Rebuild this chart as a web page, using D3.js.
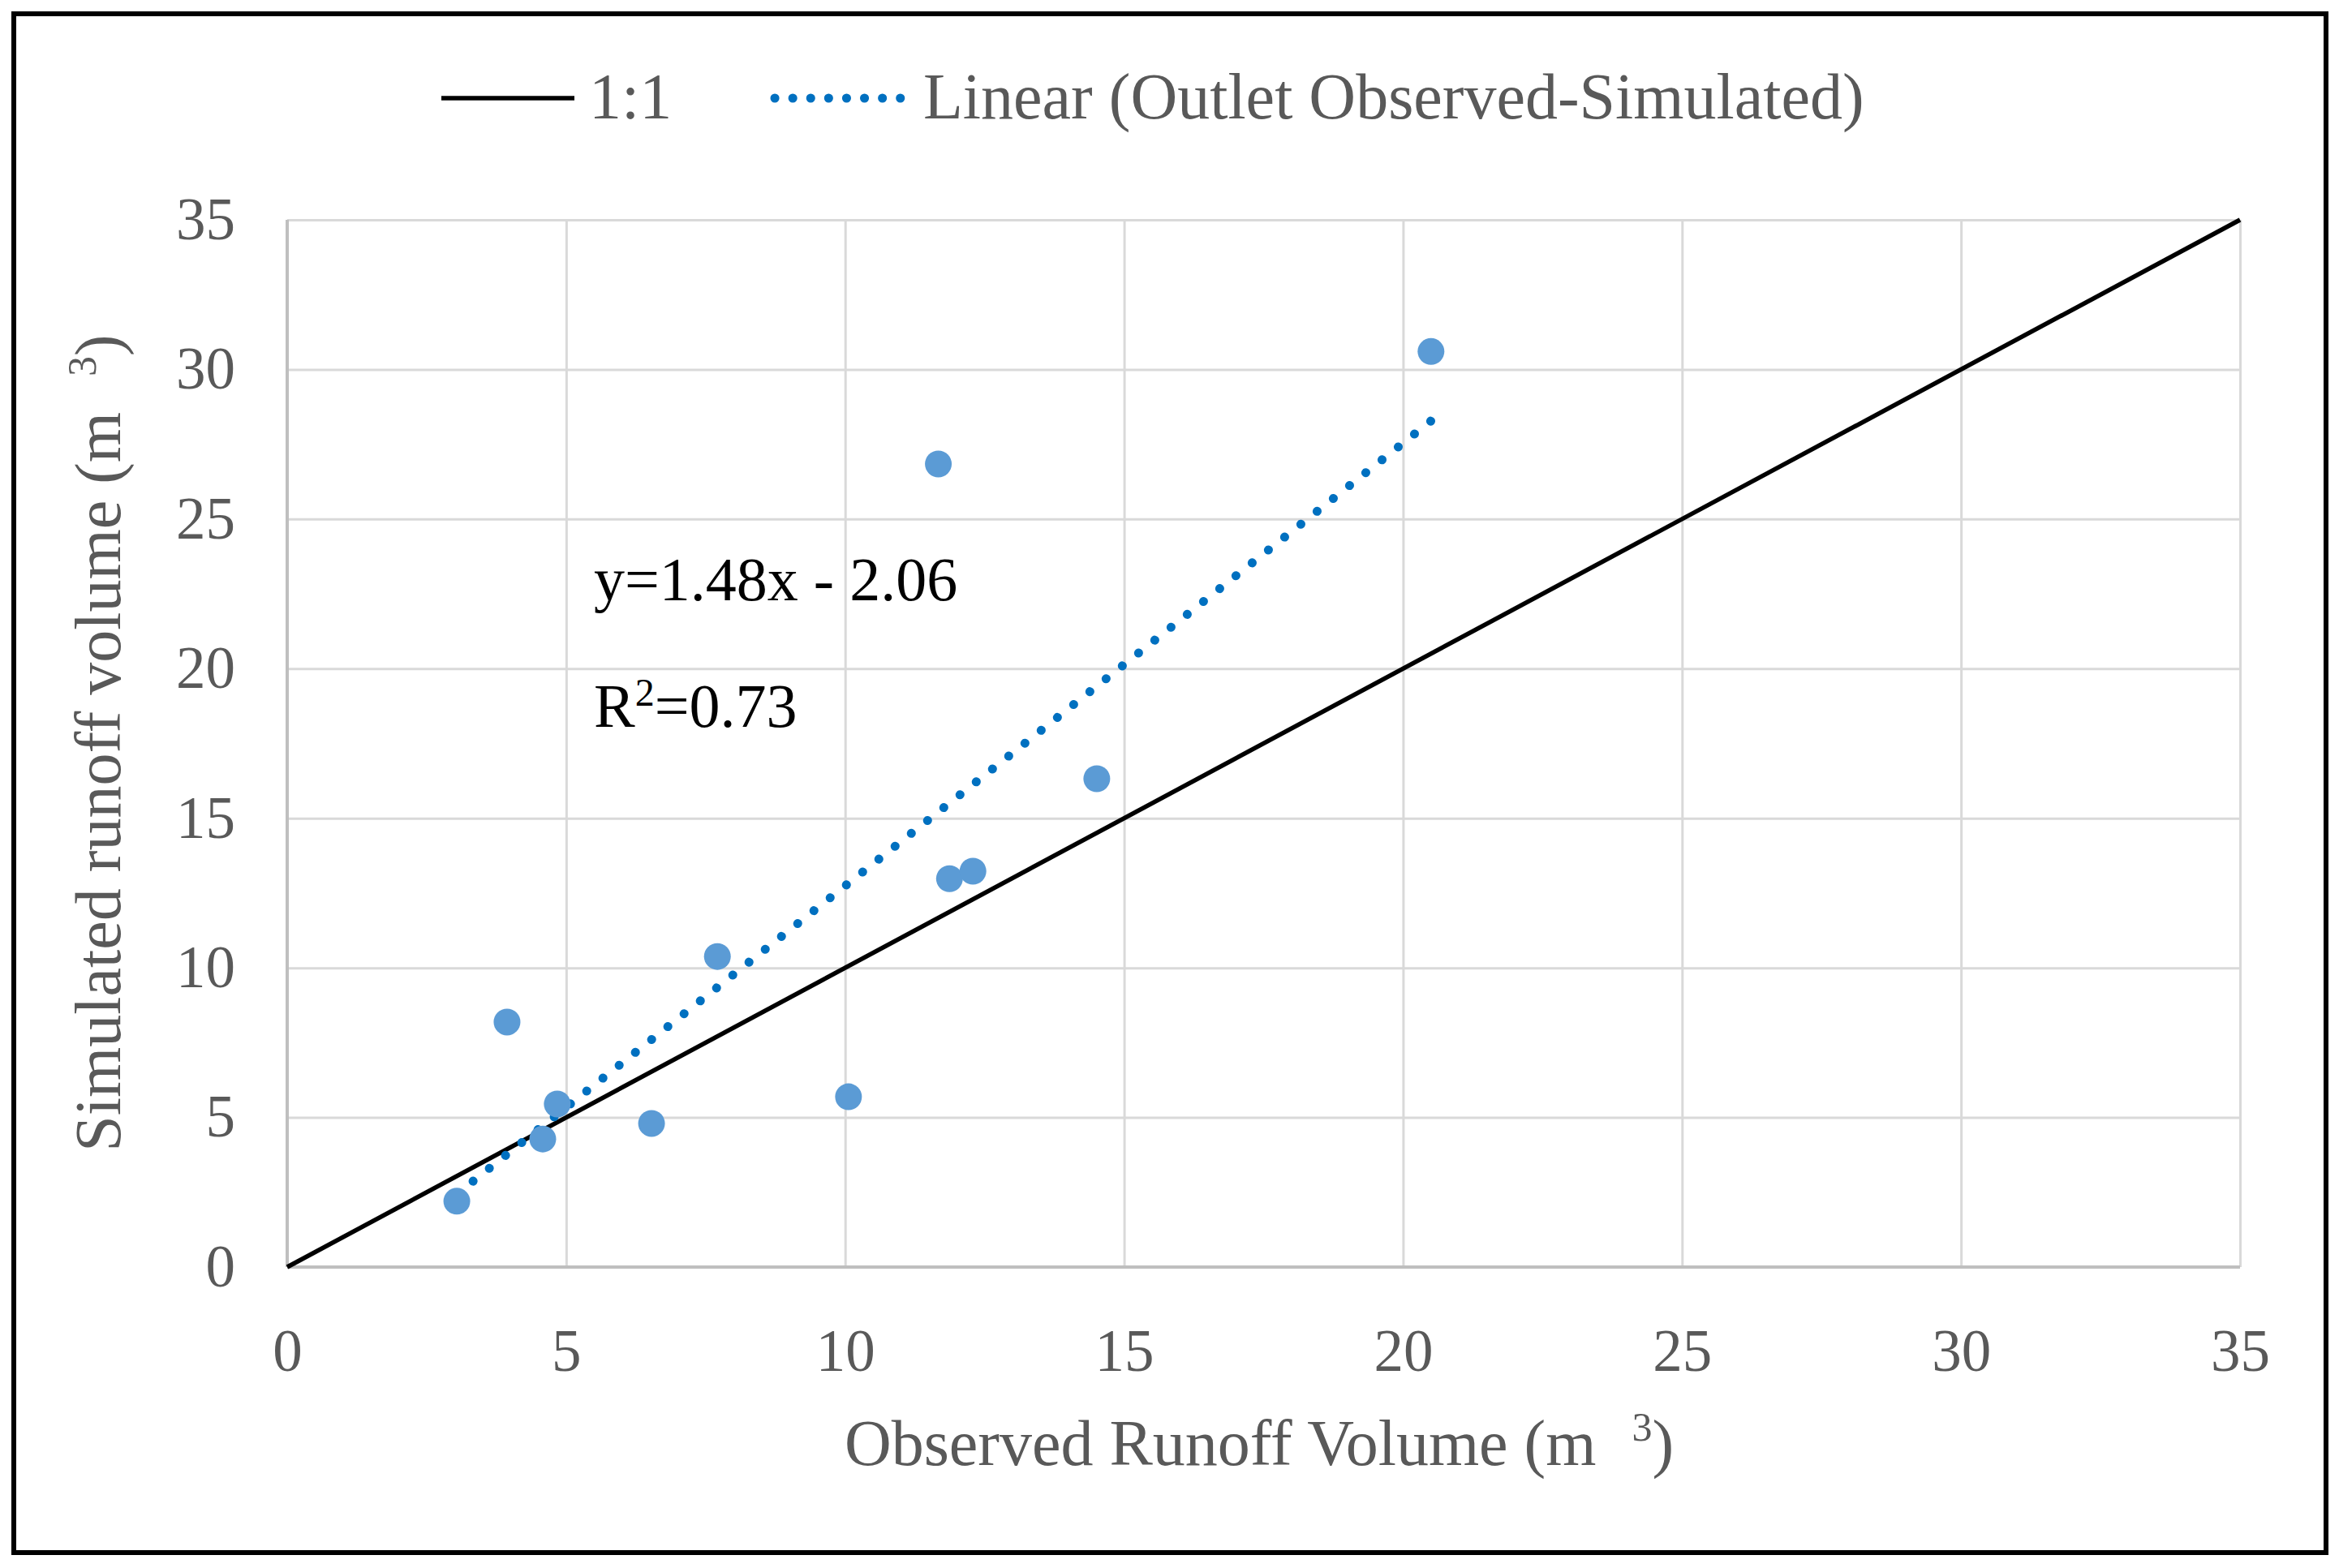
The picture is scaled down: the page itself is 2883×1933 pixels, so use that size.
<!DOCTYPE html>
<html>
<head>
<meta charset="utf-8">
<script src="https://cdn.jsdelivr.net/npm/d3@7"></script>
<style>
  body { margin: 0; background: #fff; }
  text { font-family: "Liberation Serif", "DejaVu Serif", serif; }
</style>
</head>
<body>
<div id="chart"></div>
<script>
// observed vs simulated runoff (m3)
var observed  = [3.04, 3.94, 4.84, 4.58, 6.53, 7.71, 10.06, 11.87, 12.29, 11.67, 14.51, 20.5];
var simulated = [2.2, 8.19, 5.45, 4.28, 4.8, 10.38, 5.69, 12.98, 13.23, 26.84, 16.32, 30.6];
var xTicks = [0, 5, 10, 15, 20, 25, 30, 35];
var yTicks = [0, 5, 10, 15, 20, 25, 30, 35];
var oneToOne = [0, 35];
var trendSlope = 1.48;
var trendIntercept = -2.06;
var legendLabels = ["1:1", "Linear (Outlet Observed-Simulated)"];

var svgWidth = 2883
var svgHeight = 1933

var margin = {
    top: 271,
    right: 122,
    bottom: 371,
    left: 354
  };

var width = svgWidth - margin.left - margin.right;
var height = svgHeight - margin.top - margin.bottom;

var svg = d3.select("#chart")
  .append("svg")
  .attr("width", svgWidth)
  .attr("height", svgHeight);

// outer frame
svg.append("rect")
  .attr("x", 17).attr("y", 17)
  .attr("width", 2850).attr("height", 1897)
  .attr("fill", "none")
  .attr("stroke", "#000")
  .attr("stroke-width", 6);

var xScale = d3.scaleLinear().domain([0, 35]).range([0, width]);
var yScale = d3.scaleLinear().domain([0, 35]).range([height, 0]);

var plot = svg.append("g")
  .attr("transform", `translate(${margin.left}, ${margin.top})`);

// gridlines
plot.append("g")
  .attr("transform", `translate(0, ${height})`)
  .call(d3.axisBottom(xScale).tickValues(xTicks).tickSize(-height).tickFormat(""))
  .call(g => g.select(".domain").remove())
  .selectAll("line").attr("stroke", "#d9d9d9").attr("stroke-width", 3);

plot.append("g")
  .call(d3.axisLeft(yScale).tickValues(yTicks).tickSize(-width).tickFormat(""))
  .call(g => g.select(".domain").remove())
  .selectAll("line").attr("stroke", "#d9d9d9").attr("stroke-width", 3);

// axis lines
plot.append("line")
  .attr("x1", 0).attr("x2", width)
  .attr("y1", height).attr("y2", height)
  .attr("stroke", "#bfbfbf").attr("stroke-width", 4);
plot.append("line")
  .attr("x1", 0).attr("x2", 0)
  .attr("y1", 0).attr("y2", height)
  .attr("stroke", "#bfbfbf").attr("stroke-width", 4);

// tick labels
var xAx = plot.append("g")
  .attr("transform", `translate(0, ${height})`)
  .call(d3.axisBottom(xScale).tickValues(xTicks).tickSize(0).tickPadding(76));
xAx.select(".domain").remove();
xAx.selectAll("text")
  .attr("font-size", 73)
  .attr("font-family", "Liberation Serif")
  .attr("fill", "#595959");

var yAx = plot.append("g")
  .call(d3.axisLeft(yScale).tickValues(yTicks).tickSize(0).tickPadding(64));
yAx.select(".domain").remove();
yAx.selectAll("text")
  .attr("font-size", 73)
  .attr("font-family", "Liberation Serif")
  .attr("fill", "#595959");

// 1:1 line
var line = d3.line()
  .x(d => xScale(d[0]))
  .y(d => yScale(d[1]));

plot.append("path")
  .datum(oneToOne.map(v => [v, v]))
  .attr("d", line)
  .attr("fill", "none")
  .attr("stroke", "#000")
  .attr("stroke-width", 5.5);

// trend line (dotted, spacing fitted so dots sit at both ends)
var xMin = d3.min(observed), xMax = d3.max(observed);
var trend = plot.append("path")
  .datum([xMin, xMax].map(v => [v, trendSlope * v + trendIntercept]))
  .attr("d", line)
  .attr("fill", "none")
  .attr("stroke", "#0070c0")
  .attr("stroke-width", 11)
  .attr("stroke-linecap", "round");
var tLen = trend.node().getTotalLength();
var gap = (tLen - 0.5) / Math.round(tLen / 25.6);
trend.attr("stroke-dasharray", `0.1 ${gap - 0.1}`);

// points
plot.selectAll("circle")
  .data(observed.map((d, i) => [d, simulated[i]]))
  .enter()
  .append("circle")
  .attr("cx", d => xScale(d[0]))
  .attr("cy", d => yScale(d[1]))
  .attr("r", 16.5)
  .attr("fill", "#5b9bd5");

// equation + r2
plot.append("text")
  .attr("x", 378).attr("y", 469)
  .attr("font-size", 76)
  .attr("fill", "#000")
  .text("y=1.48x - 2.06");

var r2 = plot.append("text")
  .attr("x", 378).attr("y", 625)
  .attr("font-size", 76)
  .attr("fill", "#000");
r2.append("tspan").text("R");
r2.append("tspan").attr("dy", -26).attr("font-size", 48).text("2");
r2.append("tspan").attr("dy", 26).text("=0.73");

// axis titles
var xt = svg.append("text")
  .attr("x", 1552).attr("y", 1806)
  .attr("text-anchor", "middle")
  .attr("font-size", 80)
  .attr("fill", "#595959");
xt.append("tspan").text("Observed Runoff Volume (m");
xt.append("tspan").attr("dx", 44).attr("dy", -30).attr("font-size", 50).text("3");
xt.append("tspan").attr("dy", 30).text(")");

var yt = svg.append("text")
  .attr("transform", "translate(148, 916) rotate(-90)")
  .attr("text-anchor", "middle")
  .attr("font-size", 80)
  .attr("fill", "#595959");
yt.append("tspan").text("Simulated runoff volume (m");
yt.append("tspan").attr("dx", 44).attr("dy", -30).attr("font-size", 50).text("3");
yt.append("tspan").attr("dy", 30).text(")");

// legend
var legend = svg.append("g");
legend.append("line")
  .attr("x1", 544).attr("x2", 708)
  .attr("y1", 121).attr("y2", 121)
  .attr("stroke", "#000").attr("stroke-width", 5.5);
legend.append("text")
  .attr("x", 726).attr("y", 118)
  .attr("dy", "0.35em")
  .attr("font-size", 80)
  .attr("fill", "#595959")
  .text(legendLabels[0]);
legend.append("line")
  .attr("x1", 955).attr("x2", 1110)
  .attr("y1", 121).attr("y2", 121)
  .attr("stroke", "#0070c0").attr("stroke-width", 11)
  .attr("stroke-linecap", "round")
  .attr("stroke-dasharray", "0.1 22");
legend.append("text")
  .attr("x", 1138).attr("y", 118)
  .attr("dy", "0.35em")
  .attr("font-size", 80)
  .attr("fill", "#595959")
  .text(legendLabels[1]);
</script>
</body>
</html>
